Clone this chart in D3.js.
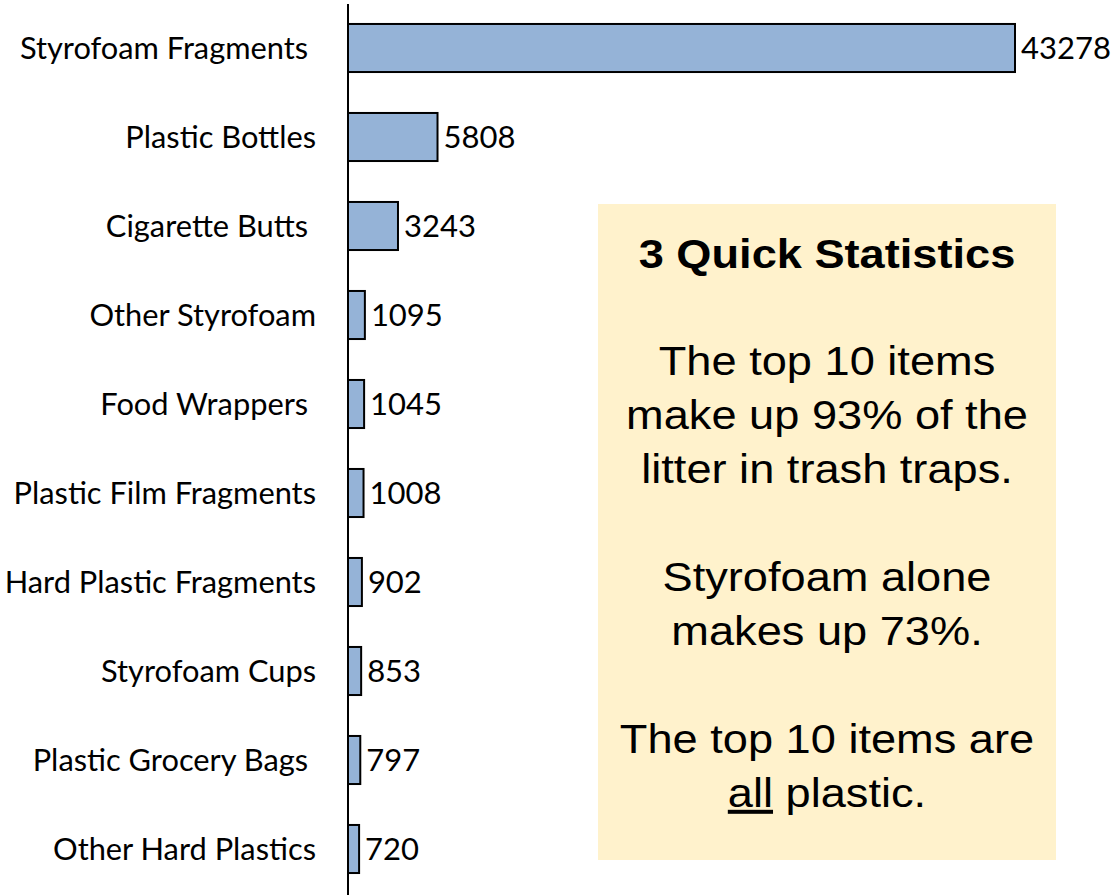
<!DOCTYPE html>
<html>
<head>
<meta charset="utf-8">
<script src="https://cdn.jsdelivr.net/npm/d3@7"></script>
<style>
	body { margin: 0; background: #fff; }
	text { white-space: pre; }
</style>
</head>
<body>
<div id="wrapper"></div>
<script>
// Data
const items = [
	'Styrofoam Fragments ',
	'Plastic Bottles',
	'Cigarette Butts ',
	'Other Styrofoam',
	'Food Wrappers ',
	'Plastic Film Fragments',
	'Hard Plastic Fragments',
	'Styrofoam Cups',
	'Plastic Grocery Bags ',
	'Other Hard Plastics'
]
const counts = [43278, 5808, 3243, 1095, 1045, 1008, 902, 853, 797, 720]

const statTitle = '3 Quick Statistics'
// '' = blank line, _word_ = underlined
const statLines = [
	'The top 10 items',
	'make up 93% of the',
	'litter in trash traps.',
	'',
	'Styrofoam alone',
	'makes up 73%.',
	'',
	'The top 10 items are',
	'_all_ plastic.'
]

function drawChart() {
	const dimensions = {
		width: 1116,
		height: 895,
		axisX: 348,
		barsTop: 3.5,
		barsBottom: 893.5,
		maxBarWidth: 667
	}

	const wrapper = d3.select('#wrapper')
		.append('svg')
			.attr('width', dimensions.width)
			.attr('height', dimensions.height)

	// Scales
	const xScale = d3.scaleLinear()
		.domain([0, d3.max(counts)])
		.range([0, dimensions.maxBarWidth])

	const yScale = d3.scaleBand()
		.domain(items)
		.range([dimensions.barsTop, dimensions.barsBottom])
		.paddingInner(0.46)
		.paddingOuter(0.23)

	const bounds = wrapper.append('g')
		.attr('transform', `translate(${dimensions.axisX}, 0)`)

	// Bars
	bounds.selectAll('rect.bar')
		.data(items)
		.join('rect')
			.attr('class', 'bar')
			.attr('x', 0)
			.attr('y', d => yScale(d))
			.attr('width', (d, i) => xScale(counts[i]))
			.attr('height', yScale.bandwidth())
			.attr('fill', '#95b3d7')
			.attr('stroke', '#000')
			.attr('stroke-width', 2)

	// Value labels
	bounds.selectAll('text.value')
		.data(items)
		.join('text')
			.attr('class', 'value')
			.attr('x', (d, i) => xScale(counts[i]) + 6)
			.attr('y', d => yScale(d) + yScale.bandwidth() / 2)
			.attr('dy', '0.36em')
			.attr('font-family', 'Lato, sans-serif')
			.attr('font-size', 31)
			.attr('fill', '#000')
			.text((d, i) => counts[i])

	// Category axis
	const yAxis = d3.axisLeft(yScale)
		.tickSize(0)
		.tickPadding(32)

	const axisG = bounds.append('g').call(yAxis)
	axisG.select('.domain')
		.attr('d', 'M0,4V895')
		.attr('stroke', '#000')
		.attr('stroke-width', 2)
	axisG.selectAll('.tick text')
		.attr('font-family', 'Lato, sans-serif')
		.attr('font-size', 30.8)
		.attr('fill', '#000')
		.attr('dy', '0.36em')

	// Stats box
	const box = { x: 598, y: 204, w: 458, h: 656 }
	wrapper.append('rect')
		.attr('x', box.x)
		.attr('y', box.y)
		.attr('width', box.w)
		.attr('height', box.h)
		.attr('fill', '#fff2cc')

	const cx = box.x + box.w / 2
	const statsG = wrapper.append('g')
		.attr('transform', `translate(${cx}, 0) scale(1.13, 1)`)
		.attr('font-family', '"Liberation Sans", Arial, sans-serif')
		.attr('text-anchor', 'middle')
		.attr('fill', '#000')

	statsG.append('text')
		.attr('x', 0)
		.attr('y', 268)
		.attr('font-size', 40)
		.attr('font-weight', 'bold')
		.text(statTitle)

	const lineStart = 375
	const lineHeight = 54
	statLines.forEach((line, i) => {
		if (!line) return
		const t = statsG.append('text')
			.attr('x', 0)
			.attr('y', lineStart + i * lineHeight)
			.attr('font-size', 40)
		line.split(/(_[^_]+_)/).filter(s => s).forEach(part => {
			const under = part.startsWith('_') && part.endsWith('_')
			t.append('tspan')
				.attr('text-decoration', under ? 'underline' : null)
				.text(under ? part.slice(1, -1) : part)
		})
	})
}
drawChart()
</script>
</body>
</html>
